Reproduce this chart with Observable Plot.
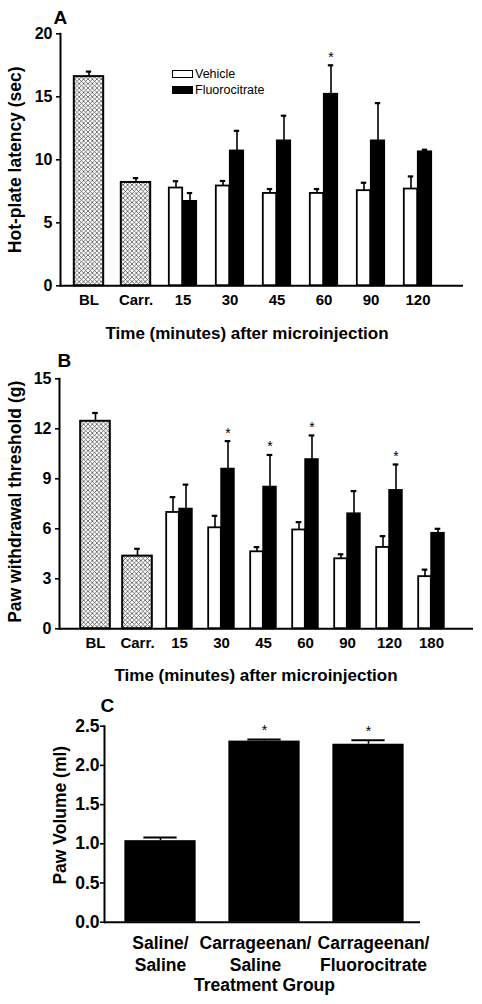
<!DOCTYPE html>
<html><head><meta charset="utf-8">
<script src="https://cdn.jsdelivr.net/npm/d3@7"></script>
<script src="https://cdn.jsdelivr.net/npm/@observablehq/plot@0.6"></script>
<style>
body{margin:0;background:#fff;}
#wrap{position:relative;width:482px;height:1004px;overflow:hidden;font-family:'Liberation Sans',Arial,sans-serif;}
#wrap svg{display:block;}
.legend{position:absolute;left:172px;top:66px;font-size:12.5px;line-height:16px;color:#000;}
.legend div{display:flex;align-items:center;height:16px;}
.legend span.sw{display:inline-block;width:21px;height:8px;box-sizing:border-box;border:1.5px solid #000;margin-right:2px;}
</style>
</head><body><div id="wrap"></div>
<script>
// ---------- Panel A data ----------
const catsA = ["BL", "Carr.", "15", "30", "45", "60", "90", "120"];
const baseCatsA = ["BL", "Carr."];
const baseA = [16.6, 8.2];
const baseSemA = [0.4, 0.35];
const timesA = ["15", "30", "45", "60", "90", "120"];
const vehA = [7.76, 7.92, 7.33, 7.33, 7.55, 7.68];
const semVehA = [0.54, 0.4, 0.35, 0.35, 0.63, 1.0];
const fluA = [6.7, 10.7, 11.5, 15.2, 11.5, 10.63];
const semFluA = [0.66, 1.6, 2.0, 2.3, 3.0, 0.17];
const sigA = ["60"];

// ---------- Panel B data ----------
const catsB = ["BL", "Carr.", "15", "30", "45", "60", "90", "120", "180"];
const baseCatsB = ["BL", "Carr."];
const baseB = [12.45, 4.36];
const baseSemB = [0.5, 0.44];
const timesB = ["15", "30", "45", "60", "90", "120", "180"];
const vehB = [6.98, 6.06, 4.62, 5.93, 4.2, 4.88, 3.13];
const semVehB = [0.92, 0.72, 0.28, 0.47, 0.27, 0.68, 0.42];
const fluB = [7.18, 9.58, 8.5, 10.15, 6.9, 8.3, 5.73];
const semFluB = [1.47, 1.68, 1.93, 1.45, 1.36, 1.56, 0.27];
const sigB = ["30", "45", "60", "120"];

// ---------- Panel C data ----------
const groupsC = ["Saline/\nSaline", "Carrageenan/\nSaline", "Carrageenan/\nFluorocitrate"];
const valsC = [1.04, 2.31, 2.27];
const semC = [0.04, 0.02, 0.05];
const sigC = [false, true, true];

const FONT = "'Liberation Sans', Arial, sans-serif";
const wrap = d3.select("#wrap");

// hatch pattern
const defs = wrap.append("svg").attr("width", 0).attr("height", 0)
  .style("position", "absolute").append("defs");
const pat = defs.append("pattern").attr("id", "hatch")
  .attr("patternUnits", "userSpaceOnUse").attr("width", 4.4).attr("height", 4.4);
pat.append("rect").attr("width", 4.4).attr("height", 4.4).attr("fill", "#fff");
pat.append("path").attr("d", "M0,0L4.4,4.4M4.4,0L0,4.4").attr("stroke", "#3a3a3a").attr("stroke-width", 0.7);

function groupedPanel(o) {
  const bw = (o.range[1] - o.range[0]) / o.cats.length;
  const half = bw / 2;
  const pw = o.pairW;
  const cw = o.capW / 2;
  const si = (bw - o.singleW) / 2;
  const single = o.baseCats.map((c, i) => ({cat: c, v: o.base[i], sem: o.baseSem[i]}));
  const veh = o.times.map((c, i) => ({cat: c, v: o.veh[i], sem: o.semVeh[i]}));
  const flu = o.times.map((c, i) => ({cat: c, v: o.flu[i], sem: o.semFlu[i], sig: o.sig.includes(c)}));
  const top = d => d.v + d.sem;
  return Plot.plot({
    width: 482, height: o.height,
    marginLeft: o.ml, marginRight: o.mr, marginTop: o.mt, marginBottom: o.mb,
    style: {fontFamily: FONT, fontWeight: "bold", color: "#000", background: "#fff", overflow: "visible"},
    x: {domain: o.cats, range: o.range, padding: 0},
    y: {domain: o.yDomain},
    marks: [
      Plot.barY(single, {x: "cat", y: "v", fill: "url(#hatch)", stroke: "#000", strokeWidth: 2, insetLeft: si, insetRight: si}),
      Plot.barY(veh, {x: "cat", y: "v", fill: "#fff", stroke: "#000", strokeWidth: 1.8, insetLeft: half - pw, insetRight: half}),
      Plot.barY(flu, {x: "cat", y: "v", fill: "#000", stroke: "#000", strokeWidth: 1.8, insetLeft: half, insetRight: half - pw}),
      Plot.ruleX(single, {x: "cat", y1: "v", y2: top, strokeWidth: 1.6}),
      Plot.ruleX(veh, {x: "cat", y1: "v", y2: top, dx: -pw / 2, strokeWidth: 1.6}),
      Plot.ruleX(flu, {x: "cat", y1: "v", y2: top, dx: pw / 2, strokeWidth: 1.6}),
      Plot.tickY(single, {x: "cat", y: top, insetLeft: half - cw, insetRight: half - cw, strokeWidth: 2.2}),
      Plot.tickY(veh, {x: "cat", y: top, insetLeft: half - pw / 2 - cw, insetRight: half + pw / 2 - cw, strokeWidth: 2.2}),
      Plot.tickY(flu, {x: "cat", y: top, insetLeft: half + pw / 2 - cw, insetRight: half - pw / 2 - cw, strokeWidth: 2.2}),
      Plot.text(flu.filter(d => d.sig), {x: "cat", y: top, dx: pw / 2, dy: -8, text: () => "*", fontSize: 14, fontWeight: "normal"}),
      Plot.ruleY([0], {strokeWidth: 2}),
      Plot.frame({anchor: "left", strokeWidth: 2}),
      Plot.axisY({ticks: o.yTicks, tickSize: 4, tickPadding: 4, fontSize: 16, strokeWidth: 1.6, label: null}),
      Plot.axisX({tickSize: 0, tickPadding: 9, fontSize: 15, label: null}),
      Plot.text([o.ylabel], {text: d => d, frameAnchor: "left", textAnchor: "middle", rotate: -90, dx: o.ylx, dy: o.yly, fontSize: 17.5}),
      Plot.text([o.xtitle], {text: d => d, frameAnchor: "bottom", dx: o.xtx, dy: o.xty, fontSize: 17, lineAnchor: "middle"}),
      Plot.text([o.letter], {text: d => d, frameAnchor: "top-left", textAnchor: "start", lineAnchor: "middle", dx: o.lx, dy: o.ly, fontSize: 19})
    ]
  });
}

const plotA = groupedPanel({
  cats: catsA, baseCats: baseCatsA, base: baseA, baseSem: baseSemA,
  times: timesA, veh: vehA, semVeh: semVehA, flu: fluA, semFlu: semFluA, sig: sigA,
  height: 345, ml: 60, mr: 19, mt: 33.3, mb: 59.7, range: [62, 443],
  singleW: 30, pairW: 14, capW: 6, yDomain: [0, 20], yTicks: [0, 5, 10, 15, 20],
  ylabel: "Hot-plate latency (sec)", ylx: -45, yly: 0,
  xtitle: "Time (minutes) after microinjection", xtx: -15, xty: 48,
  letter: "A", lx: -7, ly: -16
});

const plotB = groupedPanel({
  cats: catsB, baseCats: baseCatsB, base: baseB, baseSem: baseSemB,
  times: timesB, veh: vehB, semVeh: semVehB, flu: fluB, semFlu: semFluB, sig: sigB,
  height: 345, ml: 59, mr: 9, mt: 33.3, mb: 61.7, range: [72.8, 454.2],
  singleW: 30, pairW: 13, capW: 6, yDomain: [0, 15], yTicks: [0, 3, 6, 9, 12, 15],
  ylabel: "Paw withdrawal threshold (g)", ylx: -44, yly: -2,
  xtitle: "Time (minutes) after microinjection", xtx: -10.5, xty: 46.7,
  letter: "B", lx: -2, ly: -18
});

// Panel C
const rowsC = groupsC.map((g, i) => ({g, v: valsC[i], sem: semC[i], sig: sigC[i]}));
const labelShiftC = [0, -9, 5]; // horizontal nudge of the category labels (style)
const bwC = (420.9 - 106.6) / groupsC.length;
const barInC = (bwC - 72) / 2;
const capInC = (bwC - 34) / 2;
const plotC = Plot.plot({
  width: 482, height: 314,
  marginLeft: 104, marginRight: 62, marginTop: 35.7, marginBottom: 82.3,
  style: {fontFamily: FONT, fontWeight: "bold", color: "#000", background: "#fff", overflow: "visible"},
  x: {domain: groupsC, range: [106.6, 420.9], padding: 0, axis: null},
  y: {domain: [0, 2.5]},
  marks: [
    Plot.barY(rowsC, {x: "g", y: "v", fill: "#000", insetLeft: barInC, insetRight: barInC}),
    Plot.ruleX(rowsC, {x: "g", y1: "v", y2: d => d.v + d.sem, strokeWidth: 1.6}),
    Plot.tickY(rowsC, {x: "g", y: d => d.v + d.sem, insetLeft: capInC, insetRight: capInC, strokeWidth: 2}),
    Plot.text(rowsC.filter(d => d.sig), {x: "g", y: d => d.v + d.sem, dy: -9, text: () => "*", fontSize: 14, fontWeight: "normal"}),
    Plot.ruleY([0], {strokeWidth: 2}),
    Plot.frame({anchor: "left", strokeWidth: 2}),
    Plot.axisY({ticks: [0, 0.5, 1, 1.5, 2, 2.5], tickFormat: d => d.toFixed(1), tickSize: 4, tickPadding: 1, fontSize: 17.5, strokeWidth: 1.6, label: null}),
    ...rowsC.map((r, i) => Plot.text([r], {x: "g", text: "g", frameAnchor: "bottom", lineAnchor: "top", dy: 11, dx: labelShiftC[i], fontSize: 17.5, lineHeight: 1.25})),
    Plot.text(["Paw Volume (ml)"], {text: d => d, frameAnchor: "left", textAnchor: "middle", rotate: -90, dx: -44, dy: -9, fontSize: 17.5}),
    Plot.text(["Treatment Group"], {text: d => d, frameAnchor: "bottom", dx: 2, dy: 63, fontSize: 17.5, lineAnchor: "middle"}),
    Plot.text(["C"], {text: d => d, frameAnchor: "top-left", textAnchor: "start", lineAnchor: "middle", dx: -4, dy: -20.7, fontSize: 19})
  ]
});

const node = wrap.node();
node.appendChild(plotA);
node.appendChild(plotB);
node.appendChild(plotC);

// legend for panel A
wrap.append("div").attr("class", "legend").html(
  '<div><span class="sw" style="background:#fff"></span>Vehicle</div>' +
  '<div><span class="sw" style="background:#000"></span>Fluorocitrate</div>'
);
</script>
</body></html>
